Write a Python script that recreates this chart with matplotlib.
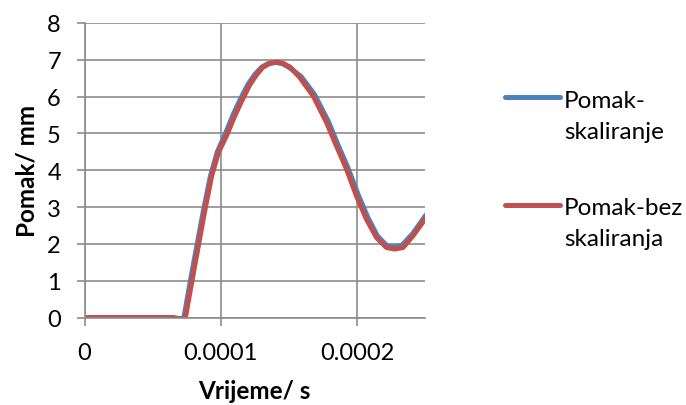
import matplotlib.pyplot as plt
from matplotlib.lines import Line2D

plt.rcParams['font.family'] = ['Lato', 'DejaVu Sans']

# vrijeme (s) i pomak (mm)
t_blue = [0, 2e-5, 4e-5, 6e-5, 6.4e-5, 6.8e-5, 7.1e-5, 7.3e-5, 7.75e-5, 8.25e-5, 8.75e-5, 9.25e-5,
          9.75e-5, 1.035e-4, 1.09e-4, 1.14e-4, 1.2e-4, 1.25e-4, 1.3e-4, 1.35e-4, 1.4e-4, 1.45e-4,
          1.5e-4, 1.59e-4, 1.69e-4, 1.79e-4, 1.86e-4, 1.935e-4, 2.01e-4, 2.08e-4, 2.15e-4,
          2.22e-4, 2.27e-4, 2.33e-4, 2.41e-4, 2.5e-4]
pomak_blue = [0, 0, 0, 0, 0, -0.02, -0.03, 0, 0.95, 1.95, 2.94, 3.85,
              4.5, 5.0, 5.5, 5.9, 6.33, 6.6, 6.8, 6.9, 6.93, 6.9,
              6.8, 6.55, 6.05, 5.33, 4.7, 4.06, 3.33, 2.72, 2.22,
              1.95, 1.92, 1.96, 2.28, 2.75]

t_red = [0, 2e-5, 4e-5, 6e-5, 6.4e-5, 6.8e-5, 7.2e-5, 7.4e-5, 7.87e-5, 8.36e-5, 8.85e-5, 9.34e-5,
         9.83e-5, 1.044e-4, 1.1e-4, 1.15e-4, 1.21e-4, 1.26e-4, 1.31e-4, 1.36e-4, 1.41e-4, 1.46e-4,
         1.51e-4, 1.581e-4, 1.679e-4, 1.777e-4, 1.85e-4, 1.924e-4, 1.997e-4, 2.07e-4, 2.144e-4,
         2.217e-4, 2.278e-4, 2.339e-4, 2.412e-4, 2.5e-4]
pomak_red = [0, 0, 0, 0, 0, -0.03, -0.04, -0.02, 0.95, 1.95, 2.94, 3.85,
             4.48, 4.95, 5.45, 5.85, 6.3, 6.58, 6.8, 6.9, 6.94, 6.9,
             6.8, 6.52, 6.02, 5.30, 4.66, 4.03, 3.30, 2.67, 2.17,
             1.90, 1.86, 1.90, 2.22, 2.67]

labels = ['Pomak-\nskaliranje', 'Pomak-bez\nskaliranja']
colors = ['#4F81BD', '#C0504D']

W, H = 686, 406
fig = plt.figure(figsize=(W / 100, H / 100), dpi=100)
ax = fig.add_axes([84.5 / W, 1 - 318.5 / H, 340.5 / W, 294.5 / H])

ax.plot(t_blue, pomak_blue, color=colors[0], lw=3.6, solid_joinstyle='round')
ax.plot(t_red, pomak_red, color=colors[1], lw=3.6, solid_joinstyle='round')

ax.set_xlim(0, 0.00025)
ax.set_ylim(0, 8)
ax.set_xticks([0, 0.0001, 0.0002])
ax.set_xticklabels(['0', '0.0001', '0.0002'])
ax.set_yticks(range(0, 9))
ax.grid(True, color='#8c8c8c', lw=1.2)
ax.set_axisbelow(True)
for s in ['top', 'right']:
    ax.spines[s].set_visible(False)
for s in ['left', 'bottom']:
    ax.spines[s].set_color('#8c8c8c')
    ax.spines[s].set_linewidth(1.2)
ax.tick_params(axis='both', colors='#8c8c8c', labelcolor='black', labelsize=17, length=6, width=1.2)
ax.tick_params(axis='y', pad=11)
ax.tick_params(axis='x', pad=12)

ax.set_xlabel('Vrijeme/ s', fontsize=17.5, fontweight='bold', labelpad=11)
ax.set_ylabel('Pomak/ mm', fontsize=17.5, fontweight='bold', labelpad=6)

# legenda
handle_y = [98, 206]
text_base = [(108, 139), (215, 246)]
for lab, c, hy, bases in zip(labels, colors, handle_y, text_base):
    fig.add_artist(Line2D([505 / W, 560 / W], [1 - hy / H, 1 - hy / H], color=c, lw=3.6,
                          solid_capstyle='round', transform=fig.transFigure))
    for line, b in zip(lab.split('\n'), bases):
        fig.text(564 / W, 1 - b / H, line, fontsize=17.5, va='baseline', ha='left')

fig.savefig('out.png', dpi=100)
